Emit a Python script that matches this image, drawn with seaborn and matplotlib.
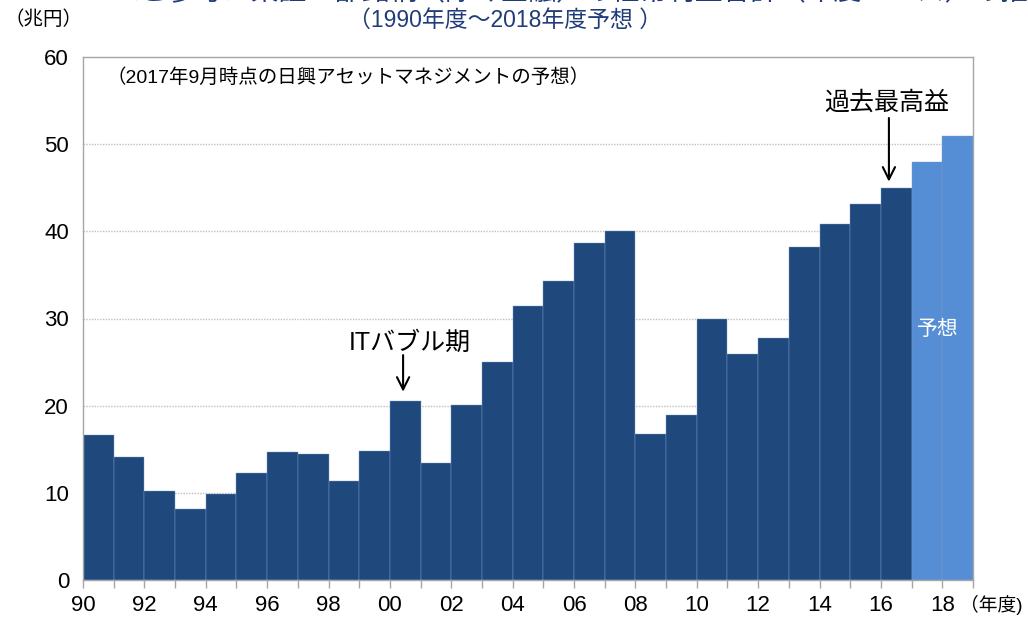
import matplotlib
matplotlib.use("Agg")
import matplotlib.pyplot as plt
import seaborn as sns
import numpy as np
import pandas as pd

sns.set_style("white")
plt.rcParams['font.family'] = ['Liberation Sans', 'Noto Sans CJK JP', 'DejaVu Sans']
plt.rcParams['text.color'] = 'black'
plt.rcParams['xtick.labelcolor'] = 'black'
plt.rcParams['ytick.labelcolor'] = 'black'

# 経常利益合計（兆円）, 1990-2016 actual, 2017-2018 forecast
years = list(range(1990, 2019))
profits = [16.6, 14.1, 10.2, 8.1, 9.9, 12.3, 14.7, 14.4, 11.4, 14.8,
           20.5, 13.4, 20.1, 25.0, 31.4, 34.3, 38.7, 40.0, 16.7, 18.9,
           30.0, 25.9, 27.8, 38.2, 40.8, 43.1, 45.0, 47.9, 50.9]
kinds = ['実績'] * 27 + ['予想'] * 2
year_labels = [f"{y % 100:02d}" for y in years]
y_ticks = [0, 10, 20, 30, 40, 50, 60]

df = pd.DataFrame({'year': year_labels, 'profit': profits, 'kind': kinds})

navy = '#1F497D'
light = '#558ED5'
frame = '#A6A6A6'
title_blue = '#1F3C78'

fig = plt.figure(figsize=(10.28, 6.17), dpi=100)
ax = fig.add_axes([83 / 1028, 1 - 580 / 617, 890 / 1028, 523 / 617])

sns.barplot(data=df, x='year', y='profit', hue='kind',
            palette={'実績': navy, '予想': light}, saturation=1,
            width=1.0, dodge=False, edgecolor='#7F9CC6', linewidth=0.3,
            legend=False, ax=ax, zorder=2)

ax.set_xlim(-0.5, len(years) - 0.5)
ax.set_ylim(0, 60)
ax.set_yticks(y_ticks)
ax.set_yticklabels([str(t) for t in y_ticks], fontsize=16)
for t in y_ticks[1:-1]:
    ax.axhline(t, color='#BFBFBF', linestyle=(0, (1, 1)), lw=1.0, zorder=1)

# tick marks between categories, labels at every other boundary
ax.set_xticks(np.arange(len(years) + 1) - 0.5, minor=True)
ax.set_xticks(np.arange(0, len(years), 2) - 0.5)
ax.set_xticklabels(year_labels[::2], fontsize=16)
ax.tick_params(axis='x', which='both', length=6, color=frame, width=1,
               direction='out', bottom=True)
ax.tick_params(axis='x', which='major', pad=5)
ax.tick_params(axis='y', length=0, pad=10)
ax.set_xlabel('')
ax.set_ylabel('')

for side in ['left', 'top', 'right', 'bottom']:
    ax.spines[side].set_visible(True)
    ax.spines[side].set_color(frame)
    ax.spines[side].set_linewidth(1.0)

# annotations
arrow = dict(arrowstyle='->', color='black', lw=1.5, mutation_scale=22,
             shrinkA=0, shrinkB=0)
ax.annotate('', xy=(9.93, 21.6), xytext=(9.93, 25.8), arrowprops=arrow)
ax.text(10.15, 27.2, 'ITバブル期', ha='center', va='center', fontsize=18)

ax.annotate('', xy=(25.76, 45.7), xytext=(25.76, 53.0), arrowprops=arrow)
ax.text(25.7, 54.7, '過去最高益', ha='center', va='center', fontsize=18)

ax.text(27.35, 28.7, '予想', ha='center', va='center', fontsize=15, color='white')
ax.text(0.28, 57.6, '（2017年9月時点の日興アセットマネジメントの予想）',
        ha='left', va='center', fontsize=14)

fig.text(5 / 1028, 1 - 20 / 617, '（兆円）', ha='left', va='center', fontsize=14)
fig.text(960 / 1028, 1 - 605 / 617, '（年度)', ha='left', va='center', fontsize=13.5)
fig.text(505 / 1028, 1 - 20 / 617, '（1990年度～2018年度予想 ）',
         ha='center', va='center', fontsize=16.5, color=title_blue)
# first title line is cut off at the top edge, as in the source image
fig.text(112 / 1028, 1.012, '＜ご参考＞東証一部銘柄（除く金融）の経常利益合計（年度ベース）の推移',
         ha='left', va='center', fontsize=20, color=title_blue)

fig.savefig('out.png', dpi=100)
plt.close(fig)
